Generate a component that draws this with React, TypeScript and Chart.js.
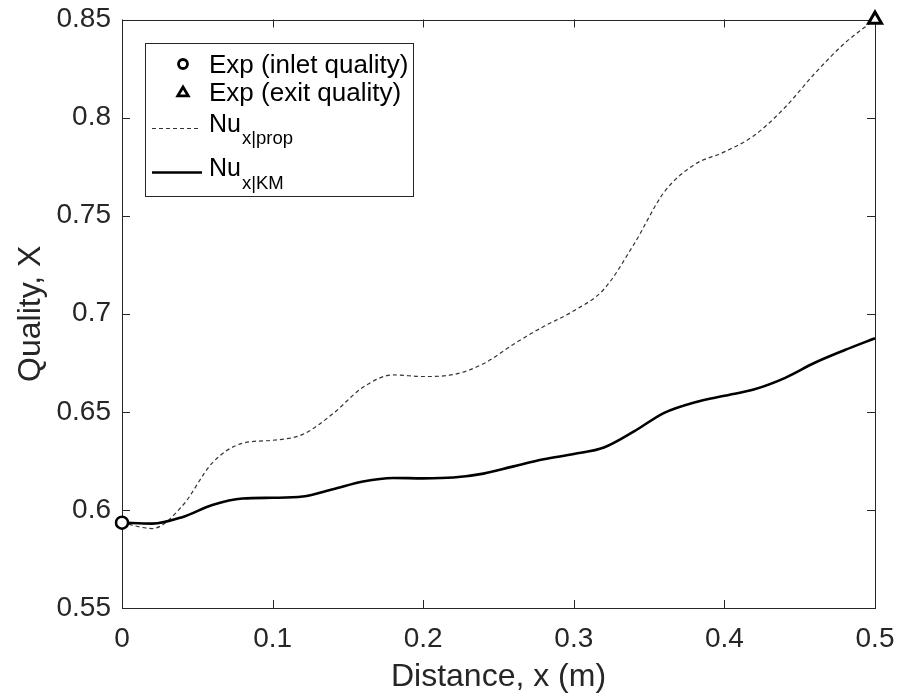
import React, { useEffect, useRef } from "react";
import { Chart, registerables } from "chart.js";

Chart.register(...registerables);

// ---- data ----
const distance = [
  0, 0.02, 0.04, 0.06, 0.08, 0.1, 0.12, 0.14, 0.16, 0.18, 0.2, 0.22, 0.24,
  0.26, 0.28, 0.3, 0.32, 0.34, 0.36, 0.38, 0.4, 0.42, 0.44, 0.46, 0.48, 0.5,
];
const qualityProp = [
  0.5935, 0.5905, 0.602, 0.624, 0.634, 0.6355, 0.6385, 0.649, 0.6625, 0.6688,
  0.668, 0.669, 0.6745, 0.6845, 0.6935, 0.7015, 0.7125, 0.7355, 0.762, 0.776,
  0.7825, 0.791, 0.805, 0.8225, 0.838, 0.85,
];
const qualityKM = [
  0.5935, 0.593, 0.5963, 0.6025, 0.6058, 0.6062, 0.6068, 0.6105, 0.6145,
  0.6163, 0.6161, 0.6165, 0.6185, 0.6222, 0.6258, 0.6285, 0.6318, 0.64,
  0.6495, 0.6548, 0.6582, 0.6615, 0.6672, 0.675, 0.6815, 0.6875,
];
const inletDistance = [0];
const inletQuality = [0.5935];
const exitDistance = [0.5];
const exitQuality = [0.85];

const xTickValues = [0, 0.1, 0.2, 0.3, 0.4, 0.5];
const xTickLabels = ["0", "0.1", "0.2", "0.3", "0.4", "0.5"];
const yTickValues = [0.55, 0.6, 0.65, 0.7, 0.75, 0.8, 0.85];
const yTickLabels = ["0.55", "0.6", "0.65", "0.7", "0.75", "0.8", "0.85"];

const legendLabels = ["Exp (inlet quality)", "Exp (exit quality)", "Nu", "Nu"];
const legendSubs = ["", "", "x|prop", "x|KM"];
const xTitle = "Distance, x (m)";
const yTitle = "Quality, X";

const FONT = '"Liberation Sans", Arial, Helvetica, sans-serif';
const AXIS = "#262626";

const framePlugin = {
  id: "frame",
  beforeDatasetsDraw(chart: any) {
    const { ctx, chartArea: a, scales } = chart;
    ctx.save();
    ctx.strokeStyle = AXIS;
    ctx.lineWidth = 1;
    ctx.strokeRect(
      Math.round(a.left) + 0.5,
      Math.round(a.top) + 0.5,
      Math.round(a.right) - Math.round(a.left),
      Math.round(a.bottom) - Math.round(a.top)
    );
    const tl = 8;
    ctx.beginPath();
    for (const t of scales.x.ticks) {
      const px = Math.round(scales.x.getPixelForValue(t.value)) + 0.5;
      ctx.moveTo(px, a.bottom);
      ctx.lineTo(px, a.bottom - tl);
      ctx.moveTo(px, a.top);
      ctx.lineTo(px, a.top + tl);
    }
    for (const t of scales.y.ticks) {
      const py = Math.round(scales.y.getPixelForValue(t.value)) + 0.5;
      ctx.moveTo(a.left, py);
      ctx.lineTo(a.left + tl, py);
      ctx.moveTo(a.right, py);
      ctx.lineTo(a.right - tl, py);
    }
    ctx.stroke();
    ctx.restore();
  },
  afterDraw(chart: any) {
    const { ctx, chartArea: a } = chart;
    const bx = Math.round(a.left) + 23;
    const by = Math.round(a.top) + 23;
    const bw = 268;
    const bh = 153;
    ctx.save();
    ctx.fillStyle = "#fff";
    ctx.fillRect(bx, by, bw, bh);
    ctx.strokeStyle = AXIS;
    ctx.lineWidth = 1;
    ctx.strokeRect(bx + 0.5, by + 0.5, bw, bh);

    const mx = bx + 38;
    const tx = bx + 64;
    ctx.textBaseline = "alphabetic";
    ctx.textAlign = "left";
    ctx.fillStyle = "#000";
    ctx.strokeStyle = "#000";

    // row 1: circle
    ctx.lineWidth = 2.8;
    ctx.beginPath();
    ctx.arc(mx, by + 21, 4.5, 0, Math.PI * 2);
    ctx.stroke();
    ctx.font = `26px ${FONT}`;
    ctx.fillText(legendLabels[0], tx, by + 29.5);

    // row 2: triangle
    const ty = by + 49.5;
    const r = 5.5;
    ctx.beginPath();
    ctx.moveTo(mx, ty - r);
    ctx.lineTo(mx + r * 0.95, ty + r * 0.6);
    ctx.lineTo(mx - r * 0.95, ty + r * 0.6);
    ctx.closePath();
    ctx.stroke();
    ctx.fillText(legendLabels[1], tx, by + 57.5);

    // row 3: dashed
    ctx.lineWidth = 1.2;
    ctx.strokeStyle = "#333";
    ctx.setLineDash([4, 3]);
    ctx.beginPath();
    ctx.moveTo(bx + 7, by + 85.5);
    ctx.lineTo(bx + 56, by + 85.5);
    ctx.stroke();
    ctx.setLineDash([]);
    ctx.strokeStyle = "#000";
    ctx.font = `25px ${FONT}`;
    ctx.fillText(legendLabels[2], tx, by + 89);
    let w = ctx.measureText(legendLabels[2]).width;
    ctx.font = `18.5px ${FONT}`;
    ctx.fillText(legendSubs[2], tx + w + 1, by + 101);

    // row 4: solid
    ctx.lineWidth = 2.6;
    ctx.beginPath();
    ctx.moveTo(bx + 7, by + 129.5);
    ctx.lineTo(bx + 57, by + 129.5);
    ctx.stroke();
    ctx.font = `25px ${FONT}`;
    ctx.fillText(legendLabels[3], tx, by + 132.5);
    w = ctx.measureText(legendLabels[3]).width;
    ctx.font = `18.5px ${FONT}`;
    ctx.fillText(legendSubs[3], tx + w + 1, by + 146);

    ctx.restore();
  },
};

export default function App() {
  const canvasRef = useRef<HTMLCanvasElement | null>(null);

  useEffect(() => {
    if (!canvasRef.current) return;
    const chart = new Chart(canvasRef.current, {
      type: "scatter",
      data: {
        datasets: [
          {
            label: legendLabels[0],
            data: inletDistance.map((x, i) => ({ x, y: inletQuality[i] })),
            showLine: false,
            pointStyle: "circle",
            pointRadius: 6,
            pointBorderWidth: 2.5,
            pointBorderColor: "#000",
            pointBackgroundColor: "#fff",
            clip: false as any,
            order: 0,
          },
          {
            label: legendLabels[1],
            data: exitDistance.map((x, i) => ({ x, y: exitQuality[i] })),
            showLine: false,
            pointStyle: "triangle",
            pointRadius: 7.5,
            pointBorderWidth: 3,
            pointBorderColor: "#000",
            pointBackgroundColor: "#fff",
            clip: false as any,
            order: 0,
          },
          {
            label: legendLabels[2] + legendSubs[2],
            data: distance.map((x, i) => ({ x, y: qualityProp[i] })),
            showLine: true,
            borderColor: "#333",
            borderWidth: 1.2,
            borderDash: [4, 3],
            pointRadius: 0,
            cubicInterpolationMode: "monotone",
            order: 2,
          },
          {
            label: legendLabels[3] + legendSubs[3],
            data: distance.map((x, i) => ({ x, y: qualityKM[i] })),
            showLine: true,
            borderColor: "#000",
            borderWidth: 2.6,
            pointRadius: 0,
            cubicInterpolationMode: "monotone",
            order: 1,
          },
        ],
      },
      options: {
        animation: false,
        responsive: true,
        maintainAspectRatio: false,
        layout: { padding: { left: 0, top: 19.5, right: 28, bottom: 0 } },
        plugins: {
          legend: { display: false },
          tooltip: { enabled: false },
        },
        scales: {
          x: {
            type: "linear",
            min: 0,
            max: 0.5,
            afterBuildTicks: (s: any) => {
              s.ticks = xTickValues.map((value) => ({ value }));
            },
            afterFit: (s: any) => {
              s.height = 92;
              s.paddingLeft = 0;
              s.paddingRight = 0;
              s.paddingTop = 0;
              s.paddingBottom = 0;
            },
            grid: { display: false, drawTicks: false },
            border: { display: false },
            ticks: {
              autoSkip: false,
              maxRotation: 0,
              padding: 14,
              color: AXIS,
              font: { family: FONT, size: 28 },
              callback: (_v: any, i: number) => xTickLabels[i],
            },
            title: {
              display: true,
              text: xTitle,
              color: AXIS,
              font: { family: FONT, size: 32 },
              padding: { top: 0, bottom: 4 },
            },
          },
          y: {
            type: "linear",
            min: 0.55,
            max: 0.85,
            afterBuildTicks: (s: any) => {
              s.ticks = yTickValues.map((value) => ({ value }));
            },
            afterFit: (s: any) => {
              s.width = 122;
              s.paddingLeft = 0;
              s.paddingRight = 0;
              s.paddingTop = 0;
              s.paddingBottom = 0;
            },
            grid: { display: false, drawTicks: false },
            border: { display: false },
            ticks: {
              autoSkip: false,
              padding: 11,
              color: AXIS,
              font: { family: FONT, size: 28 },
              callback: (_v: any, i: number) => yTickLabels[i],
            },
            title: {
              display: true,
              text: yTitle,
              color: AXIS,
              font: { family: FONT, size: 32 },
              padding: { top: 12, bottom: 0 },
            },
          },
        },
      },
      plugins: [framePlugin],
    });
    return () => chart.destroy();
  }, []);

  return (
    <div
      style={{
        position: "absolute",
        left: 0,
        top: 0,
        width: 903,
        height: 700,
        background: "#fff",
      }}
    >
      <canvas ref={canvasRef} />
    </div>
  );
}
